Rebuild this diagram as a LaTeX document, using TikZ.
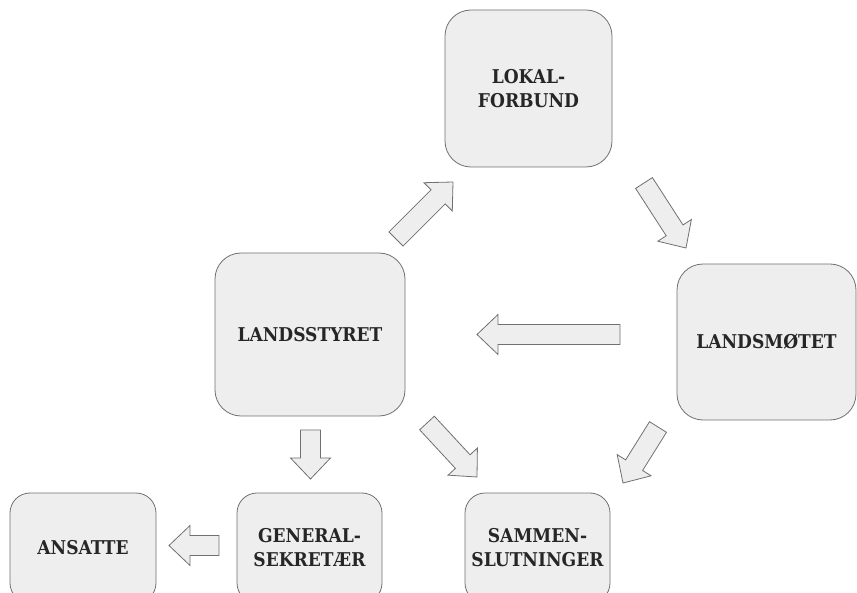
\documentclass[tikz,border=0pt]{standalone}
\usepackage{fontspec}
\usepackage{tikz}
\usetikzlibrary{calc}
\newfontfamily\boxfont{DejaVu Serif Condensed}

\definecolor{boxfill}{HTML}{EEEEEE}
\definecolor{boxline}{HTML}{707070}

\tikzset{
  unit/.style={draw=boxline, fill=boxfill, line width=0.8pt, rounded corners=#1,
    font=\boxfont\bfseries\fontsize{19}{24}\selectfont, text=black!85, align=center},
  unit/.default=26pt,
  blockarrow/.style={draw=boxline, fill=boxfill, line width=0.8pt, line join=miter}
}

\newcommand{\blockarrow}[2]{%
  \coordinate (hb) at ($(#2)!21pt!(#1)$);
  \draw[blockarrow] ($(#1)!10pt!90:(#2)$) -- ($(hb)!10pt!90:(#2)$)
    -- ($(hb)!20pt!90:(#2)$) -- (#2) -- ($(hb)!20pt!-90:(#2)$)
    -- ($(hb)!10pt!-90:(#2)$) -- ($(#1)!10pt!-90:(#2)$) -- cycle;
}

\begin{document}
\begin{tikzpicture}[x=1pt, y=-1pt]
  \useasboundingbox (0,0) rectangle (857,593);
  \clip (0,0) rectangle (857,593);

  \node[unit, minimum width=167pt, minimum height=157pt] (lokal) at (528.5,88.5) {LOKAL-\\FORBUND};
  \node[unit, minimum width=190pt, minimum height=163pt] (styret) at (310,334.5) {LANDSSTYRET};
  \node[unit, minimum width=179pt, minimum height=156pt] (motet) at (766.5,342) {LANDSMØTET};
  \node[unit=20pt, minimum width=145pt, minimum height=110pt] (gensek) at (309.5,548) {GENERAL-\\SEKRETÆR};
  \node[unit=20pt, minimum width=146pt, minimum height=110pt] (ansatte) at (83,548) {ANSATTE};
  \node[unit=20pt, minimum width=145pt, minimum height=110pt] (samm) at (537.5,548) {SAMMEN-\\SLUTNINGER};

  \foreach \n/\a/\b in {1/{396,239}/{453,182}, 2/{644,183}/{686,248}, 3/{620,334.5}/{477,334.5},
      4/{310.5,430}/{310.5,479}, 5/{219,545.5}/{169,545.5}, 6/{427,423}/{477,477}, 7/{658,427}/{623,483}} {
    \coordinate (t\n) at (\a);
    \coordinate (h\n) at (\b);
    \blockarrow{t\n}{h\n}
  }
\end{tikzpicture}
\end{document}
